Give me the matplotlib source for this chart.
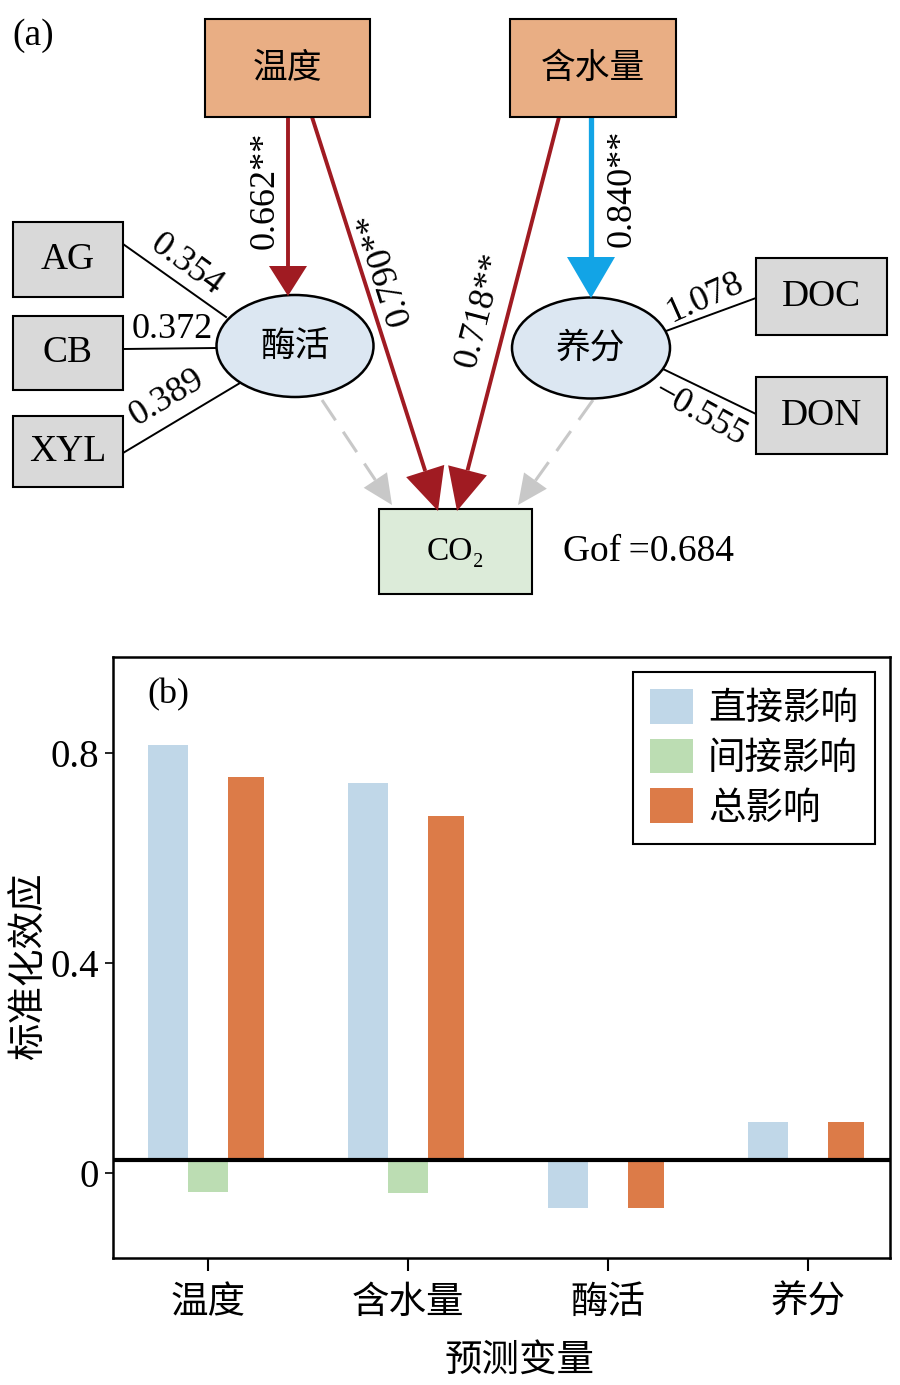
import numpy as np
import matplotlib
matplotlib.use("Agg")
import matplotlib.pyplot as plt
from matplotlib.patches import Rectangle, Ellipse, Polygon

plt.rcParams['font.family'] = ['Liberation Serif', 'Noto Sans CJK SC', 'DejaVu Sans']
CJK = ['Noto Sans CJK SC', 'DejaVu Sans']
SERIF = ['Liberation Serif', 'Noto Sans CJK SC']

# ---- panel (b) data ----
predictors = ['温度', '含水量', '酶活', '养分']
effect_names = ['直接影响', '间接影响', '总影响']
direct = [0.790, 0.718, -0.092, 0.072]
indirect = [-0.061, -0.063, 0.0, 0.0]
total = [0.729, 0.655, -0.092, 0.072]
baseline = 0.025   # the zero line in the original sits a bit above the 0 tick
yticks = [0, 0.4, 0.8]
ytick_labels = ['0', '0.4', '0.8']

# ---- panel (a) data ----
path_coef = {'温度-酶活': '0.662**', '温度-CO2': '0.790**',
             '含水量-CO2': '0.718**', '含水量-养分': '0.840**'}
enzyme_load = ['0.354', '0.372', '0.389']
enzyme_vars = ['AG', 'CB', 'XYL']
nutrient_load = ['1.078', '\u22120.555']
nutrient_vars = ['DOC', 'DON']
gof = 0.684

c_direct = '#C0D7E8'
c_indirect = '#BCDDB3'
c_total = '#DC7B48'
dark_red = '#A01B22'
blue = '#12A4E6'
grey_arrow = '#C8C8C8'

fig = plt.figure(figsize=(9, 13.85), dpi=100)

# ================= panel (a): path diagram in pixel coordinates =================
H_A = 615
ax = fig.add_axes([0, 1 - H_A / 1385, 1, H_A / 1385])
ax.set_xlim(0, 900)
ax.set_ylim(H_A, 0)
ax.axis('off')


def box(x0, y0, x1, y1, fc, label, fam, size):
    ax.add_patch(Rectangle((x0, y0), x1 - x0, y1 - y0, fc=fc, ec='black', lw=1.5, zorder=3))
    ax.text((x0 + x1) / 2, (y0 + y1) / 2, label, family=fam, fontsize=size,
            ha='center', va='center', zorder=4)


def arrow(x0, y0, x1, y1, color, lw, hw, hl, ls='-', z=2):
    d = np.array([x1 - x0, y1 - y0], float)
    L = np.hypot(*d)
    u = d / L
    n = np.array([-u[1], u[0]])
    base = np.array([x1, y1]) - u * hl
    ax.plot([x0, base[0]], [y0, base[1]], color=color, lw=lw, ls=ls,
            solid_capstyle='butt', zorder=z)
    tri = [base + n * hw / 2, base - n * hw / 2, [x1, y1]]
    ax.add_patch(Polygon(tri, closed=True, fc=color, ec='none', zorder=z + 1))


ax.text(12, 36, '(a)', family=SERIF, fontsize=27, ha='left', va='center')

box(205, 19, 370, 117, '#E9AE84', predictors[0], CJK, 25)
box(510, 19, 676, 117, '#E9AE84', predictors[1], CJK, 25)
box(379, 509, 532, 594, '#DCEBD9', 'CO\u2082', SERIF, 24)

ax.add_patch(Ellipse((295, 346), 157, 102, fc='#DCE7F2', ec='black', lw=1.8, zorder=3))
ax.text(295, 346, predictors[2], family=CJK, fontsize=25, ha='center', va='center', zorder=4)
ax.add_patch(Ellipse((591, 348), 158, 101, fc='#DCE7F2', ec='black', lw=1.8, zorder=3))
ax.text(591, 348, predictors[3], family=CJK, fontsize=25, ha='center', va='center', zorder=4)

# manifest variables
ev_y = [(222, 297), (316, 390), (416, 487)]
for name, (y0, y1) in zip(enzyme_vars, ev_y):
    box(13, y0, 123, y1, '#D9D9D9', name, SERIF, 27)
nv_y = [(258, 335), (377, 454)]
for name, (y0, y1) in zip(nutrient_vars, nv_y):
    box(756, y0, 887, y1, '#D9D9D9', name, SERIF, 27)

# loadings
ax.plot([123, 226], [244, 317], color='black', lw=1.4, zorder=2)
ax.plot([123, 217], [349, 348], color='black', lw=1.4, zorder=2)
ax.plot([123, 240], [453, 383], color='black', lw=1.4, zorder=2)
ax.text(186, 265, enzyme_load[0], family=SERIF, fontsize=26, rotation=-36,
        ha='center', va='center')
ax.text(172, 329, enzyme_load[1], family=SERIF, fontsize=26, ha='center', va='center')
ax.text(167, 398, enzyme_load[2], family=SERIF, fontsize=26, rotation=31,
        ha='center', va='center')
ax.plot([666, 756], [331, 298], color='black', lw=1.4, zorder=2)
ax.plot([663, 756], [369, 414], color='black', lw=1.4, zorder=2)
ax.text(705, 298, nutrient_load[0], family=SERIF, fontsize=26, rotation=24,
        ha='center', va='center')
ax.text(700, 414, nutrient_load[1], family=SERIF, fontsize=26, rotation=-29,
        ha='center', va='center')

# structural paths
arrow(288, 117, 288, 296, dark_red, 2.8, 38, 30)
ax.text(265, 190, path_coef['温度-酶活'], family=SERIF, fontsize=26, rotation=90,
        ha='center', va='center')
arrow(312, 117, 438, 511, dark_red, 2.8, 40, 42)
ax.text(385, 268, path_coef['温度-CO2'], family=SERIF, fontsize=26, rotation=107.5,
        ha='center', va='center')
arrow(559, 117, 457, 511, dark_red, 2.8, 40, 42)
ax.text(481, 310, path_coef['含水量-CO2'], family=SERIF, fontsize=26, rotation=75.5,
        ha='center', va='center')
arrow(591, 117, 591, 298, blue, 3.8, 48, 41)
ax.text(622, 188, path_coef['含水量-养分'], family=SERIF, fontsize=26, rotation=90,
        ha='center', va='center')
arrow(322, 400, 392, 505, grey_arrow, 2.2, 28, 30, ls=(0, (8, 4.5)), z=1)
arrow(593, 400, 518, 505, grey_arrow, 2.2, 28, 30, ls=(0, (8, 4.5)), z=1)

ax.text(563, 552, 'Gof\u2009=%.3f' % gof, family=['Liberation Serif', 'DejaVu Sans'],
        fontsize=27, ha='left', va='center')

# ================= panel (b): bar chart =================
bx = fig.add_axes([113 / 900, (1385 - 1258) / 1385, 777 / 900, 601 / 1385])
x = np.arange(len(predictors))
bx.bar(x - 0.2, direct, width=0.2, bottom=baseline, color=c_direct, label=effect_names[0])
bx.bar(x, indirect, width=0.2, bottom=baseline, color=c_indirect, label=effect_names[1])
bx.bar(x + 0.19, total, width=0.18, bottom=baseline, color=c_total, label=effect_names[2])
bx.axhline(baseline, color='black', lw=3, zorder=5)

bx.set_xlim(-0.475, 3.41)
bx.set_ylim(-0.162, 0.983)
bx.set_xticks(x)
bx.set_xticklabels(predictors, family=CJK, fontsize=27)
bx.set_yticks(yticks)
bx.set_yticklabels(ytick_labels, family=SERIF, fontsize=28)
bx.tick_params(axis='x', length=9, width=1.5, pad=9)
bx.tick_params(axis='y', length=6, width=1.2, pad=4)
for s in bx.spines.values():
    s.set_linewidth(1.8)
bx.set_ylabel('标准化效应', family=CJK, fontsize=27)
bx.yaxis.set_label_coords(-0.083, 0.485)
bx.set_xlabel('预测变量', family=CJK, fontsize=27)
bx.xaxis.set_label_coords((520 - 113) / 777, -0.138)
bx.text(0.071, 0.937, '(b)', transform=bx.transAxes, family=SERIF, fontsize=26,
        ha='center', va='center')

leg = bx.legend(loc='upper right', prop={'family': CJK, 'size': 27}, fancybox=False,
                framealpha=1, edgecolor='black', handlelength=1.15, handleheight=1.05,
                labelspacing=0.28, borderaxespad=0.4, handletextpad=0.4,
                borderpad=0.45)
leg.get_frame().set_linewidth(1.5)

fig.savefig('out.png', dpi=100)
